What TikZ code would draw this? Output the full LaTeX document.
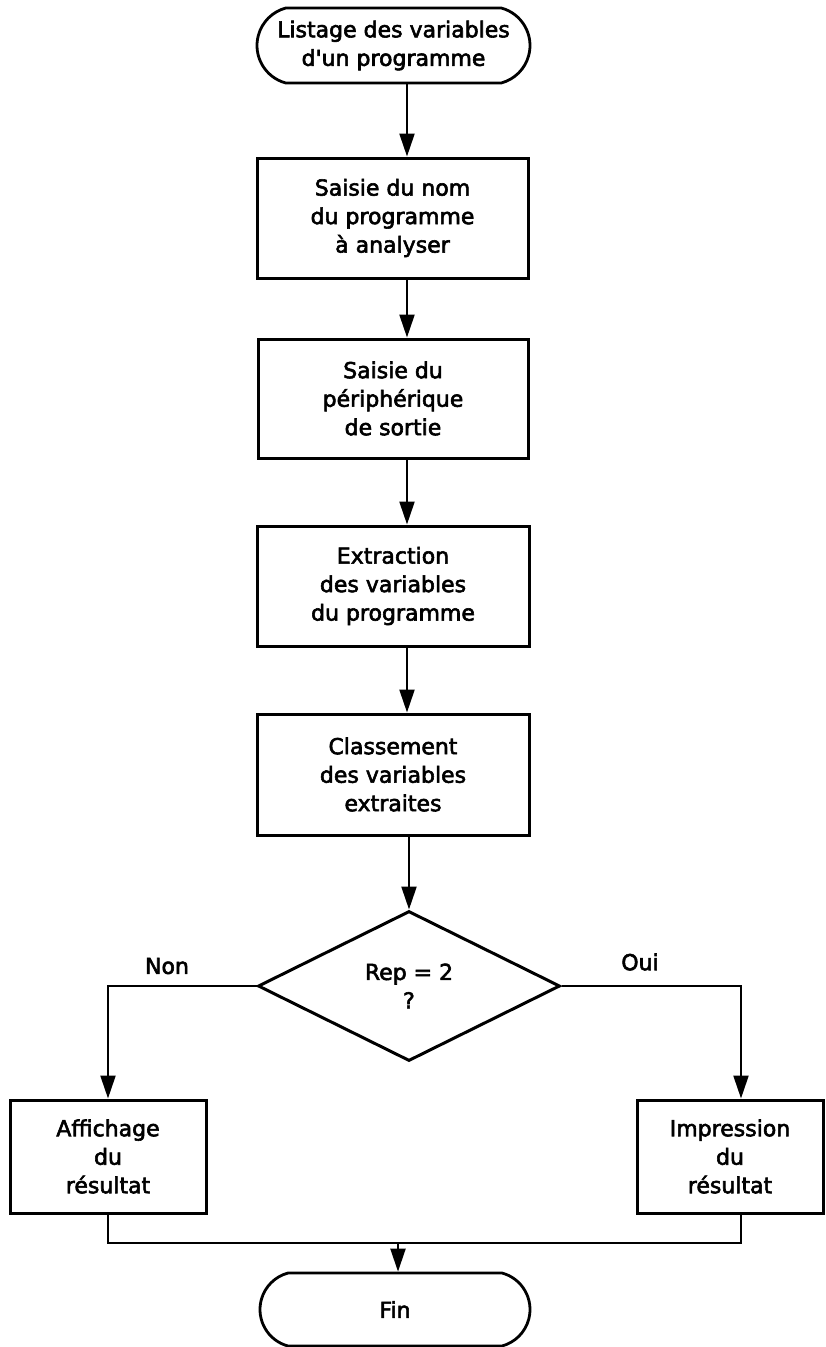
\documentclass[tikz,border=0pt]{standalone}
\usepackage{fontspec}
\setmainfont{DejaVu Sans}
\newfontfamily\medfont[FakeBold=2.6]{DejaVu Sans}
\usetikzlibrary{shapes.geometric,shapes.misc,arrows.meta}
\begin{document}
\begin{tikzpicture}[x=1pt,y=-1pt,
  every node/.style={font=\medfont\fontsize{22}{28.5}\selectfont, align=center, inner sep=0pt},
  procbox/.style={draw, rectangle, line width=3pt},
  termbox/.style={draw, rounded rectangle, rounded rectangle arc length=150, line width=2.8pt},
  decbox/.style={draw, diamond, aspect=2, line width=3pt},
  flow/.style={line width=2.2pt},
  arr/.style={flow, -{Triangle[length=23pt,width=15pt]}},
  lbl/.style={}
]
\useasboundingbox[fill=white] (0,0) rectangle (825,1347);

\coordinate (axis) at (407,0);
\coordinate (join) at (398,1243);

\node[termbox, minimum width=273pt, minimum height=75pt] (start) at (393.5,45.5)
  {Listage des variables\\d'un programme};
\node[procbox, minimum width=271pt, minimum height=120pt] (b1) at (392.5,218)
  {Saisie du nom\\du programme\\à analyser};
\node[procbox, minimum width=270pt, minimum height=119pt] (b2) at (393,398.5)
  {Saisie du\\périphérique\\de sortie};
\node[procbox, minimum width=272pt, minimum height=120pt] (b3) at (393,586)
  {Extraction\\des variables\\du programme};
\node[procbox, minimum width=272pt, minimum height=121pt] (b4) at (393,774.5)
  {Classement\\des variables\\extraites};
\node[decbox, minimum width=302pt, minimum height=150pt] (dec) at (409,986)
  {Rep = 2\\?};
\node[lbl] (non) at (167,966) {Non};
\node[lbl] (oui) at (640,962) {Oui};
\node[procbox, minimum width=196pt, minimum height=113pt] (aff) at (108,1156.5)
  {Affichage\\du\\résultat};
\node[procbox, minimum width=186pt, minimum height=113pt] (imp) at (730,1156.5)
  {Impression\\du\\résultat};
\node[termbox, minimum width=270pt, minimum height=73pt] (fin) at (395,1309.5)
  {Fin};

\draw[arr] (start.south -| axis) -- (b1.north -| axis);
\draw[arr] (b1.south -| axis) -- (b2.north -| axis);
\draw[arr] (b2.south -| axis) -- (b3.north -| axis);
\draw[arr] (b3.south -| axis) -- (b4.north -| axis);
\draw[arr] (b4.south -| dec.north) -- (dec.north);
\draw[arr] (dec.west) -| (aff.north);
\draw[arr] (dec.east) -| ([xshift=11pt]imp.north);
\draw[flow] (aff.south) |- (join) -| ([xshift=11pt]imp.south);
\draw[arr] (join) -- (fin.north -| join);
\end{tikzpicture}
\end{document}
